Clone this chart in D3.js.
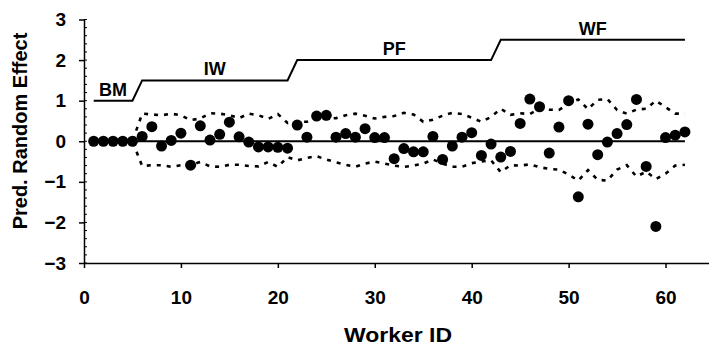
<!DOCTYPE html>
<html>
<head>
<meta charset="utf-8">
<script src="https://cdn.jsdelivr.net/npm/d3@7"></script>
<style>
  body { margin: 0; background: #fff; }
  svg text { font-family: "Liberation Sans", Arial, sans-serif; font-weight: bold; fill: #000; }
</style>
</head>
<body>
<div id="chart"></div>
<script>
// predicted random effect per worker (worker ids 1..62)
var effect = [0, 0, 0, 0, 0, 0.12, 0.36, -0.12, 0.02, 0.2,
  -0.59, 0.38, 0.03, 0.17, 0.47, 0.11, -0.02, -0.14, -0.14, -0.15,
  -0.17, 0.4, 0.1, 0.62, 0.64, 0.1, 0.19, 0.1, 0.31, 0.09,
  0.09, -0.43, -0.18, -0.26, -0.26, 0.12, -0.45, -0.12, 0.1, 0.21,
  -0.35, -0.07, -0.39, -0.25, 0.44, 1.04, 0.85, -0.29, 0.35, 1.0,
  -1.37, 0.42, -0.33, -0.02, 0.19, 0.41, 1.03, -0.62, -2.1, 0.09,
  0.15, 0.23];

// upper / lower interval (dotted lines)
var upper = [0, 0, 0, 0, 0, 0.68, 0.66, 0.64, 0.68, 0.64,
  0.52, 0.56, 0.69, 0.68, 0.64, 0.57, 0.68, 0.64, 0.55, 0.67,
  0.45, 0.48, 0.48, 0.55, 0.55, 0.57, 0.64, 0.68, 0.63, 0.56,
  0.6, 0.62, 0.7, 0.66, 0.48, 0.53, 0.63, 0.7, 0.67, 0.58,
  0.48, 0.6, 0.8, 0.65, 0.69, 0.67, 0.8, 0.78, 0.77, 0.93,
  1.03, 0.79, 1.02, 1.04, 0.77, 0.68, 0.78, 0.8, 1.0, 0.84,
  0.68, 0.68];
var lower = [0, 0, 0, 0, 0, -0.61, -0.59, -0.59, -0.63, -0.59,
  -0.58, -0.51, -0.62, -0.63, -0.58, -0.58, -0.61, -0.62, -0.51, -0.63,
  -0.39, -0.47, -0.41, -0.37, -0.45, -0.52, -0.58, -0.63, -0.55, -0.5,
  -0.55, -0.6, -0.63, -0.6, -0.55, -0.45, -0.55, -0.63, -0.63, -0.54,
  -0.5, -0.47, -0.76, -0.59, -0.6, -0.57, -0.64, -0.68, -0.7, -0.82,
  -0.97, -0.71, -0.95, -0.97, -0.7, -0.59, -0.87, -0.75, -0.93, -0.8,
  -0.6, -0.58];

// phases: stepped line at the top
var phases = ["BM", "IW", "PF", "WF"];
var phaseStart = [1, 6, 22, 43];
var phaseEnd = [5, 21, 42, 62];
var phaseLevel = [1, 1.5, 2, 2.5];

var yTicks = [-3, -2, -1, 0, 1, 2, 3];
var xTicks = [0, 10, 20, 30, 40, 50, 60];

var W = 709, H = 345;
var x = d3.scaleLinear().domain([0, 65]).range([84, 714]);
var y = d3.scaleLinear().domain([-3, 3]).range([263, 19.5]);

var svg = d3.select("#chart").append("svg")
    .attr("width", W)
    .attr("height", H);

var ids = d3.range(1, effect.length + 1);

// axes
var yAxis = svg.append("g")
    .attr("transform", "translate(84,0)")
    .call(d3.axisLeft(y).tickValues(yTicks).tickSize(5).tickSizeOuter(0).tickPadding(13).tickFormat(d3.format("d")));
yAxis.select(".domain").attr("stroke-width", 1.5);
yAxis.selectAll(".tick line").attr("stroke-width", 1.5);
yAxis.selectAll("text").style("font-size", "19px");

// minor ticks on the inside
svg.append("g").selectAll("line")
  .data(d3.range(-3, 3.01, 0.2))
  .join("line")
    .attr("x1", 84).attr("x2", 87)
    .attr("y1", function(d) { return y(d); })
    .attr("y2", function(d) { return y(d); })
    .attr("stroke", "#000").attr("stroke-width", 1);

var xAxis = svg.append("g")
    .attr("transform", "translate(0,263)")
    .call(d3.axisBottom(x).tickValues(xTicks).tickSize(5).tickSizeOuter(0).tickPadding(23));
xAxis.select(".domain").attr("stroke-width", 1.5);
xAxis.selectAll(".tick line").attr("stroke-width", 1.5);
xAxis.selectAll("text").style("font-size", "19px");

// axis titles
svg.append("text")
    .attr("transform", "translate(27,131) rotate(-90)")
    .attr("text-anchor", "middle")
    .style("font-size", "20px")
    .text("Pred. Random Effect");

svg.append("text")
    .attr("x", 398).attr("y", 342)
    .attr("text-anchor", "middle")
    .attr("textLength", 108)
    .attr("lengthAdjust", "spacingAndGlyphs")
    .style("font-size", "20px")
    .text("Worker ID");

// zero line
var line = d3.line()
    .x(function(d) { return x(d[0]); })
    .y(function(d) { return y(d[1]); });

svg.append("path")
    .datum([[1, 0], [62, 0]])
    .attr("d", line)
    .attr("fill", "none").attr("stroke", "#000").attr("stroke-width", 2);

// dotted interval lines
[upper, lower].forEach(function(band) {
  svg.append("path")
      .datum(ids.map(function(id, i) { return [id, band[i]]; }))
      .attr("d", line)
      .attr("fill", "none")
      .attr("stroke", "#000")
      .attr("stroke-width", 2.6)
      .attr("stroke-dasharray", "4,6");
});

// phase step line
var steps = [];
phases.forEach(function(p, i) {
  steps.push([phaseStart[i], phaseLevel[i]]);
  steps.push([phaseEnd[i], phaseLevel[i]]);
});
svg.append("path")
    .datum(steps)
    .attr("d", line)
    .attr("fill", "none").attr("stroke", "#000").attr("stroke-width", 2);

svg.append("g").selectAll("text")
  .data(phases)
  .join("text")
    .attr("x", function(d, i) { return x((phaseStart[i] + phaseEnd[i]) / 2); })
    .attr("y", function(d, i) { return y(phaseLevel[i]) - 5; })
    .attr("text-anchor", "middle")
    .style("font-size", "18px")
    .text(function(d) { return d; });

// points
svg.append("g").selectAll("circle")
  .data(effect)
  .join("circle")
    .attr("cx", function(d, i) { return x(ids[i]); })
    .attr("cy", function(d) { return y(d); })
    .attr("r", 5.5)
    .attr("fill", "#000");
</script>
</body>
</html>
